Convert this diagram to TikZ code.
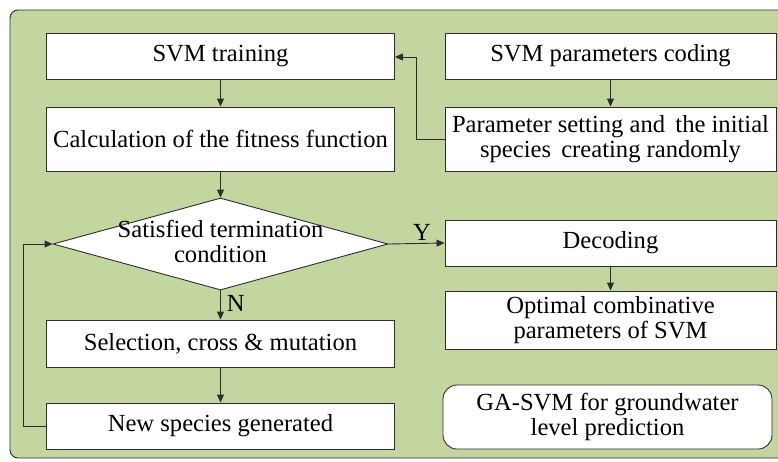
\documentclass[tikz,border=0pt]{standalone}
\usepackage{fontspec}
\setmainfont{Liberation Serif}
\usetikzlibrary{shapes.geometric,arrows.meta}
\definecolor{panelgreen}{RGB}{195,214,160}
\definecolor{edgegray}{RGB}{45,45,45}
\begin{document}
\begin{tikzpicture}[x=1pt,y=-1pt,
  txt/.style={font=\fontsize{24.6}{25}\selectfont},
  box/.style={draw=edgegray,line width=0.9pt,fill=white,minimum height=#1,
    inner sep=0pt,align=center,txt},
  box/.default=46pt,
  link/.style={draw=edgegray,line width=0.9pt,-{Triangle[length=8pt,width=7pt]}},
  lbl/.style={txt,inner sep=0pt}]
\useasboundingbox (0,0) rectangle (778,461);
% background panel
\fill[panelgreen,draw=edgegray,line width=0.9pt,rounded corners=8pt]
  (10,458) -- (10,10) -- (790,10) -- (790,458) -- cycle;
% left column
\node[box=46pt,minimum width=348pt] (train) at (220.5,56) {SVM training};
\node[box=64pt,minimum width=348pt] (fit) at (220.5,139) {Calculation of the fitness function};
\node[diamond,draw=edgegray,line width=0.9pt,fill=white,aspect=3.64,
  minimum width=335pt,minimum height=92pt,inner sep=0pt] (cond) at (220.5,244) {};
\node[txt,align=center,inner sep=0pt] (condtext) at (220.5,241)
  {Satisfied termination\\condition};
\node[box=47pt,minimum width=348pt] (sel) at (220.5,343.5) {Selection, cross \& mutation};
\node[box=46pt,minimum width=348pt] (new) at (220.5,426) {New species generated};
% right column
\node[box=46pt,minimum width=331pt] (code) at (610.5,56) {SVM parameters coding};
\node[box=64pt,minimum width=331pt] (init) at (610.5,139)
  {Parameter setting and\, the initial\\species\, creating randomly};
\node[box=46pt,minimum width=331pt] (dec) at (610.5,243) {Decoding};
\node[box=58pt,minimum width=331pt] (opt) at (610.5,320)
  {Optimal combinative\\parameters of SVM};
\node[box=64pt,minimum width=329pt,rounded corners=14pt] (title) at (607.5,417)
  {GA-SVM for groundwater\\level prediction};
% connectors
\draw[link] (train) -- (fit);
\draw[link] (fit) -- (cond.north);
\draw[link] (cond.south) -- (sel) node[lbl,pos=0.45,right=6pt] {N};
\draw[link] (sel) -- (new);
\draw[link] (new.west) -- ++(-23,0) |- (cond.west);
\draw[link] (cond.east) -- (dec.west) node[lbl,pos=0.6,above=2pt] {Y};
\draw[link] (dec) -- (opt);
\draw[link] (code) -- (init);
\coordinate (bend) at (416,0);
\draw[link] (init.west) -- (bend |- init.west) |- (train.east |- 0,57);
\end{tikzpicture}
\end{document}
